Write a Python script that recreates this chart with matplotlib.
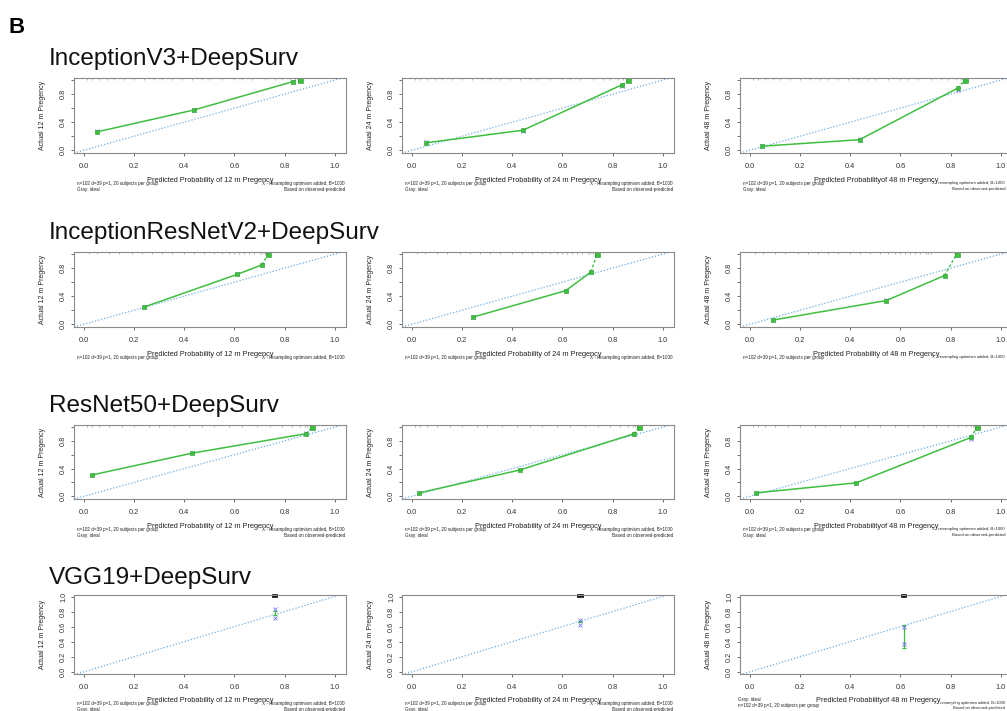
import numpy as np
import matplotlib
matplotlib.use("Agg")
from matplotlib import pyplot as plt

plt.rcParams['font.family'] = ['Liberation Sans', 'DejaVu Sans']

W, H = 1007, 711

models = ["InceptionV3+DeepSurv", "InceptionResNetV2+DeepSurv",
          "ResNet50+DeepSurv", "VGG19+DeepSurv"]
months = ["12", "24", "48"]

# calibration groups: mean predicted, observed (apparent) and bias-corrected
incv3_pred = [[0.05, 0.44, 0.835, 0.86], [0.054, 0.442, 0.839, 0.863], [0.048, 0.437, 0.829, 0.857]]
incv3_obs = [[0.26, 0.575, 0.98, 1.0], [0.105, 0.284, 0.935, 1.0], [0.057, 0.15, 0.886, 1.0]]
incv3_corr = [[0.275, 0.57, 0.97, 1.0], [0.12, 0.28, 0.915, 1.0], [0.06, 0.155, 0.86, 0.99]]

incres_pred = [[0.24, 0.61, 0.711, 0.733], [0.242, 0.613, 0.714, 0.738], [0.09, 0.543, 0.776, 0.824]]
incres_obs = [[0.245, 0.71, 0.848, 1.0], [0.10, 0.478, 0.746, 1.0], [0.058, 0.337, 0.694, 1.0]]
incres_corr = [[0.25, 0.71, 0.845, 0.99], [0.10, 0.48, 0.75, 0.99], [0.06, 0.345, 0.684, 0.99]]

res50_pred = [[0.03, 0.43, 0.885, 0.91], [0.029, 0.43, 0.885, 0.907], [0.025, 0.424, 0.881, 0.905]]
res50_obs = [[0.306, 0.622, 0.904, 1.0], [0.049, 0.379, 0.903, 1.0], [0.049, 0.194, 0.85, 1.0]]
res50_corr = [[0.30, 0.62, 0.91, 0.99], [0.05, 0.38, 0.90, 0.99], [0.05, 0.195, 0.825, 0.985]]

# VGG19: a single group per time point
vgg_pred = [0.76, 0.672, 0.615]
vgg_obs_lo = [0.75, 0.655, 0.32]
vgg_obs_hi = [0.81, 0.67, 0.62]
vgg_corr_lo = [0.72, 0.62, 0.375]
vgg_corr_hi = [0.84, 0.69, 0.59]

# rug of predicted probabilities (top of each panel)
incv3_rug = [0.01, 0.03, 0.06, 0.09, 0.12, 0.16, 0.2, 0.24, 0.28, 0.31, 0.35, 0.39,
             0.43, 0.47, 0.5, 0.55, 0.6, 0.63, 0.67, 0.72, 0.76, 0.79, 0.82, 0.84]
incres_rug = [0.02, 0.05, 0.1, 0.14, 0.19, 0.23, 0.27, 0.31, 0.35, 0.4, 0.44, 0.48,
              0.52, 0.55, 0.58, 0.6, 0.62, 0.64, 0.66, 0.68, 0.7, 0.71, 0.72]
res50_rug = [0.01, 0.03, 0.06, 0.1, 0.15, 0.2, 0.26, 0.3, 0.36, 0.42, 0.47, 0.52,
             0.58, 0.63, 0.69, 0.74, 0.79, 0.83, 0.86, 0.88, 0.89]

rows = [(incv3_pred, incv3_obs, incv3_corr, incv3_rug),
        (incres_pred, incres_obs, incres_corr, incres_rug),
        (res50_pred, res50_obs, res50_corr, res50_rug)]

GREEN = '#3fbf3f'
BLUE = '#7070ff'
IDEAL = '#6aaee6'
BOX = '#8a8a8a'

col_left = [74, 402, 740]
col_w = 272
row_top = [78, 252, 425, 595]
row_bot = [153, 327, 499, 674]
title_base = [65, 239, 412, 584]


def fx(x):
    return x / W


def fy(y):
    return 1 - y / H


def style_axes(ax, vgg=False):
    ax.set_xlim(-0.04, 1.045)
    if vgg:
        ax.set_ylim(-0.03, 1.02)
        ax.set_yticks([0, 0.2, 0.4, 0.6, 0.8, 1.0])
        ax.set_yticklabels(['0.0', '0.2', '0.4', '0.6', '0.8', '1.0'])
    else:
        ax.set_ylim(-0.04, 1.03)
        ax.set_yticks([0, 0.2, 0.4, 0.6, 0.8, 1.0])
        ax.set_yticklabels(['0.0', '', '0.4', '', '0.8', ''])
    ax.set_xticks([0, 0.2, 0.4, 0.6, 0.8, 1.0])
    ax.set_xticklabels(['0.0', '0.2', '0.4', '0.6', '0.8', '1.0'])
    for s in ax.spines.values():
        s.set_color(BOX)
        s.set_linewidth(0.8)
    ax.tick_params(axis='x', length=2.5, width=0.5, pad=5, labelsize=5.3,
                   colors='#333333')
    ax.tick_params(axis='y', length=2.5, width=0.5, pad=2.5, labelsize=5.3,
                   colors='#333333')
    for lab in ax.get_yticklabels():
        lab.set_rotation(90)
        lab.set_va('center')
    ax.plot([-0.1, 1.1], [-0.1, 1.1], linestyle=(0, (1, 1.5)), color=IDEAL, lw=0.9)


def foot(r, c, xlabel, second_line=True):
    left = col_left[c]
    right = min(left + col_w - 1, 1005)
    rb = row_bot[r]
    small = 3.3 if c < 2 else 3.0
    fig.text(fx(left + col_w / 2), fy(rb + 27), xlabel, fontsize=5.3,
             ha='center', va='center', color='#222222')
    fig.text(fx(left + 3), fy(rb + 30), 'n=102 d=39 p=1, 20 subjects per group',
             fontsize=3.3, ha='left', va='center', color='#222222')
    fig.text(fx(right), fy(rb + 30), 'X - resampling optimism added, B=1000',
             fontsize=small, ha='right', va='center', color='#222222')
    if second_line:
        fig.text(fx(left + 3), fy(rb + 36), 'Gray: ideal', fontsize=3.3,
                 ha='left', va='center', color='#222222')
        fig.text(fx(right), fy(rb + 36), 'Based on observed-predicted',
                 fontsize=small, ha='right', va='center', color='#222222')


fig = plt.figure(figsize=(W / 100, H / 100), dpi=100)
fig.text(fx(9), fy(33), 'B', fontsize=16, fontweight='bold', ha='left', va='baseline')

for r in range(4):
    fig.text(fx(49), fy(title_base[r]), models[r], fontsize=17.5,
             ha='left', va='baseline', color='#111111')
    for c in range(3):
        ax = fig.add_axes([fx(col_left[c]), fy(row_bot[r]), col_w / W,
                           (row_bot[r] - row_top[r]) / H])
        style_axes(ax, vgg=(r == 3))
        ax.set_ylabel('Actual %s m Pregency' % months[c], fontsize=5, color='#222222')
        ax.yaxis.set_label_coords(-28 / col_w, 0.5)

        if r < 3:
            pred, obs, corr, rug = rows[r]
            p, o, k = pred[c], obs[c], corr[c]
            ax.vlines(rug, 1.005, 1.03, color='#9a9a9a', lw=0.5)
            ax.vlines([p[-1] - 0.006, p[-1] - 0.003, p[-1], p[-1] + 0.003],
                      1.0, 1.03, color='#222222', lw=1.0)
            ax.plot(p[:-1], o[:-1], '-', color=GREEN, lw=1.1)
            ax.plot(p[-2:], o[-2:], '--', color=GREEN, lw=1.0, dashes=(2, 1.5))
            ax.plot(p, k, 'x', color=BLUE, ms=2.6, mew=0.6)
            ax.plot(p, o, 's', color=GREEN, ms=2.4, mec='#2f9f2f', mew=0.4)
            ax.plot(p[-1], o[-1], 's', color=GREEN, ms=3.6, mec='#2f9f2f', mew=0.4)
            xl = 'Predicted Probability of %s m Pregency' % months[c]
            if c == 2 and r != 1:
                xl = 'Predicted Probabilityof %s m Pregency' % months[c]
            foot(r, c, xl, second_line=(r != 1))
        else:
            x = vgg_pred[c]
            ax.plot([x - 0.012, x + 0.012], [1.013, 1.013], color='#111111',
                    lw=2.6, solid_capstyle='butt', clip_on=False)
            ax.plot([x, x], [vgg_obs_lo[c], vgg_obs_hi[c]], '-', color=GREEN, lw=0.9)
            ax.plot([x, x], [vgg_obs_lo[c], vgg_obs_hi[c]], '_', color=GREEN, ms=3, mew=0.8)
            ax.plot([x, x], [vgg_corr_lo[c], vgg_corr_hi[c]], 'x', color=BLUE, ms=2.4, mew=0.6)
            if c < 2:
                foot(r, c, 'Predicted Probability of %s m Pregency' % months[c])
            else:
                left = col_left[c]
                fig.text(fx(left - 2), fy(700), 'Gray: ideal', fontsize=3.3,
                         ha='left', va='center', color='#222222')
                fig.text(fx(left - 2), fy(705.5), 'n=102 d=39 p=1, 20 subjects per group',
                         fontsize=3.3, ha='left', va='center', color='#222222')
                fig.text(fx(878), fy(700), 'Predicted Probabilityof 48 m Pregency',
                         fontsize=5.3, ha='center', va='center', color='#222222')
                fig.text(fx(1005), fy(703), 'X - resampling optimism added, B=1000',
                         fontsize=2.9, ha='right', va='center', color='#222222')
                fig.text(fx(1005), fy(708.5), 'Based on observed-predicted',
                         fontsize=2.9, ha='right', va='center', color='#222222')

fig.savefig('out.png', dpi=100)
